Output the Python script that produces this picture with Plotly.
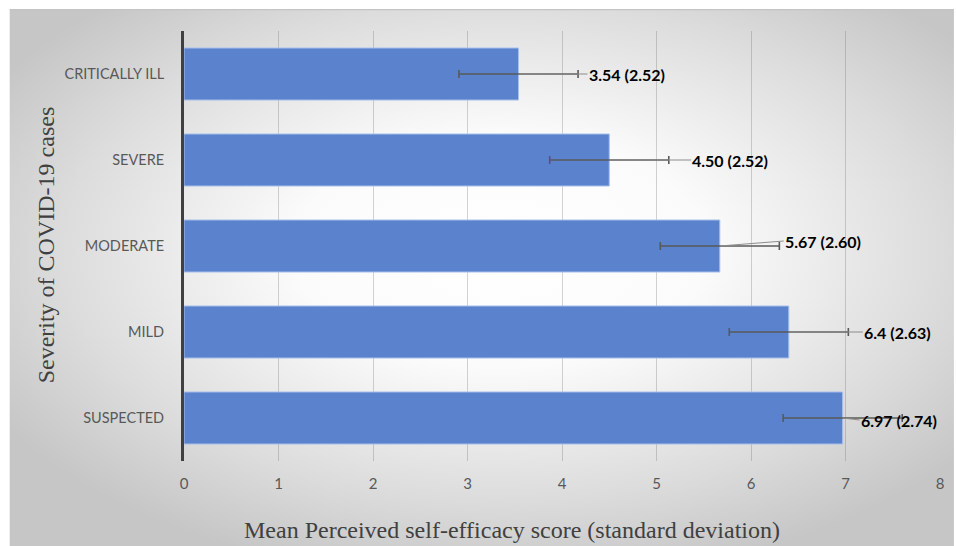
import base64
import plotly.graph_objects as go

# ---- data ----
categories = ["CRITICALLY ILL", "SEVERE", "MODERATE", "MILD", "SUSPECTED"]
means = [3.54, 4.50, 5.67, 6.40, 6.97]
sds = [2.52, 2.52, 2.60, 2.63, 2.74]
err_bars = [0.63, 0.63, 0.63, 0.63, 0.63]
label_texts = ["3.54 (2.52)", "4.50 (2.52)", "5.67 (2.60)", "6.4 (2.63)", "6.97 (2.74)"]

# label offsets (pixels) for leader lines
label_dx = [69, 82, 64, 74, 17]
label_dy = [0, 0, -5, 0, 2]

W, H = 956, 546
L, R, T, B = 184, 14, 31, 85
pw, ph = W - L - R, H - T - B

# gradient background as svg
bx0, by0 = 9, 9
bw, bh = W - bx0, H - by0
svg = f'''<svg xmlns="http://www.w3.org/2000/svg" width="{bw}" height="{bh}" viewBox="0 0 {bw} {bh}" preserveAspectRatio="none">
<defs><radialGradient id="g" cx="52%" cy="45%" r="62%" fx="52%" fy="45%">
<stop offset="0" stop-color="#ffffff"/><stop offset="0.35" stop-color="#fbfbfb"/>
<stop offset="0.75" stop-color="#dcdcdc"/><stop offset="1" stop-color="#c6c6c6"/></radialGradient></defs>
<rect x="0" y="0" width="{bw}" height="{bh}" fill="url(#g)"/>
<line x1="0" y1="0.5" x2="{bw}" y2="0.5" stroke="#c4c4c4" stroke-width="1.5"/>
</svg>'''
src = "data:image/svg+xml;base64," + base64.b64encode(svg.encode()).decode()

fig = go.Figure()
fig.add_trace(go.Bar(
    x=means, y=categories, orientation="h",
    marker=dict(color="#5B82CC", line=dict(color="#A9C0EA", width=1)),
    error_x=dict(type="data", array=err_bars, visible=True, color="#595959", thickness=1.6, width=4),
    hoverinfo="skip",
))

for c, m, t, dx, dy in zip(categories, means, label_texts, label_dx, label_dy):
    fig.add_annotation(
        x=m, y=c, text=f"<b>{t}</b>", showarrow=True, arrowhead=0, arrowwidth=1,
        arrowcolor="#8c8c8c", ax=dx, ay=dy, xanchor="left", yanchor="middle",
        font=dict(family="Lato", size=16, color="#000000"), borderpad=0, standoff=0,
    )

# axis titles
fig.add_annotation(
    xref="paper", yref="paper", x=(46 - L) / pw, y=(H - B - 245) / ph,
    text="Severity of COVID-19 cases", showarrow=False, textangle=-90,
    font=dict(family="Liberation Serif", size=24, color="#404040"),
    xanchor="center", yanchor="middle",
)
fig.add_annotation(
    xref="paper", yref="paper", x=(513 - L) / pw, y=-(530 - (H - B)) / ph,
    text="Mean Perceived self-efficacy score (standard deviation)", showarrow=False,
    font=dict(family="Liberation Serif", size=24, color="#404040"),
    xanchor="center", yanchor="middle",
)

fig.update_layout(
    width=W, height=H,
    margin=dict(l=L, r=R, t=T, b=B),
    paper_bgcolor="white", plot_bgcolor="rgba(0,0,0,0)",
    bargap=0.395, showlegend=False,
    images=[dict(source=src, xref="paper", yref="paper",
                 x=(bx0 - L) / pw, y=1 + (T - by0) / ph,
                 sizex=bw / pw, sizey=bh / ph, sizing="stretch",
                 xanchor="left", yanchor="top", layer="below")],
    xaxis=dict(range=[0, 8], dtick=1, showgrid=True, gridcolor="rgba(110,110,110,0.3)",
               gridwidth=1.2, zeroline=False, showline=False, ticks="",
               tickfont=dict(family="Lato", size=15, color="#595959"),
               ticklabelstandoff=12, fixedrange=True),
    yaxis=dict(categoryorder="array", categoryarray=categories, autorange="reversed",
               showline=True, linewidth=3, linecolor="#404040", showgrid=False,
               ticks="", tickfont=dict(family="Lato", size=14.5, color="#595959"),
               ticklabelstandoff=14, fixedrange=True),
)

fig.write_html(
    "out.html",
    config={"displayModeBar": False},
    post_script="document.body.style.margin='0';document.body.style.overflow='hidden';",
)
